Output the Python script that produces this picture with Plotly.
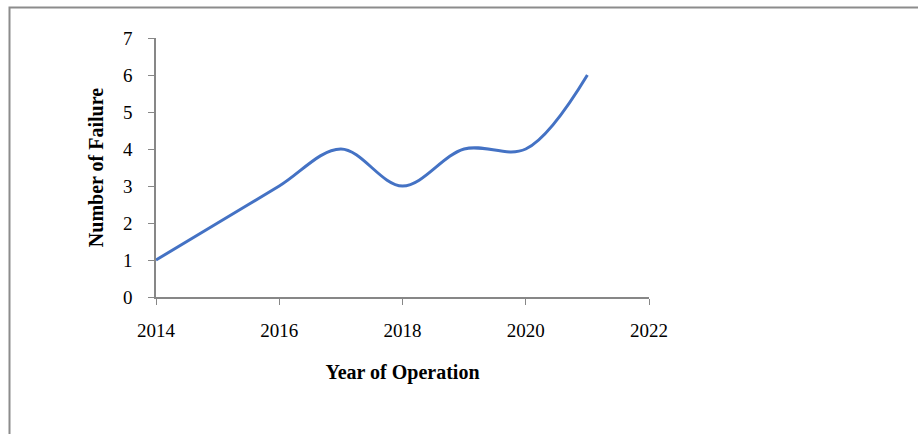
import plotly.graph_objects as go

# Failures recorded per year of operation
years = [2014, 2015, 2016, 2017, 2018, 2019, 2020, 2021]
failures = [1, 2, 3, 4, 3, 4, 4, 6]

x_ticks = [2014, 2016, 2018, 2020, 2022]
y_ticks = [0, 1, 2, 3, 4, 5, 6, 7]

W, H = 918, 434
L, R, T, B = 156, 269, 38, 137
pw, ph = W - L - R, H - T - B

axis_grey = "#878787"
serif = "Liberation Serif, Times New Roman, serif"


def px_x(px):
    return (px - L) / pw


def px_y(py):
    return (T + ph - py) / ph


fig = go.Figure()
fig.add_trace(go.Scatter(
    x=years, y=failures, mode="lines",
    line=dict(color="#4472C4", width=3, shape="spline", smoothing=1.0),
    hoverinfo="x+y", showlegend=False,
))

fig.update_layout(
    width=W, height=H,
    margin=dict(l=L, r=R, t=T, b=B, pad=0),
    paper_bgcolor="white", plot_bgcolor="white",
    font=dict(family=serif, size=19, color="black"),
    xaxis=dict(
        range=[2014, 2022], tickvals=x_ticks, showgrid=False, zeroline=False,
        showline=True, linecolor=axis_grey, linewidth=1.5,
        ticks="outside", ticklen=6, tickcolor=axis_grey, tickwidth=1.2,
        ticklabelstandoff=9,
        title=dict(text="<b>Year of Operation</b>", font=dict(size=20), standoff=25),
    ),
    yaxis=dict(
        range=[0, 7], tickvals=y_ticks, showgrid=False, zeroline=False,
        showline=True, linecolor=axis_grey, linewidth=1.5,
        ticks="outside", ticklen=6, tickcolor=axis_grey, tickwidth=1.2,
        ticklabelstandoff=12,
        title=dict(text="<b>Number of Failure</b>", font=dict(size=20), standoff=14),
    ),
)

# Outer chart frame (runs off the right and bottom edges of the page)
fig.add_shape(
    type="rect", xref="paper", yref="paper",
    x0=px_x(9.5), x1=px_x(930), y0=px_y(450), y1=px_y(7.5),
    line=dict(color="#8c8c8c", width=2), fillcolor="rgba(0,0,0,0)", layer="below",
)

fig.write_html("out.html")
